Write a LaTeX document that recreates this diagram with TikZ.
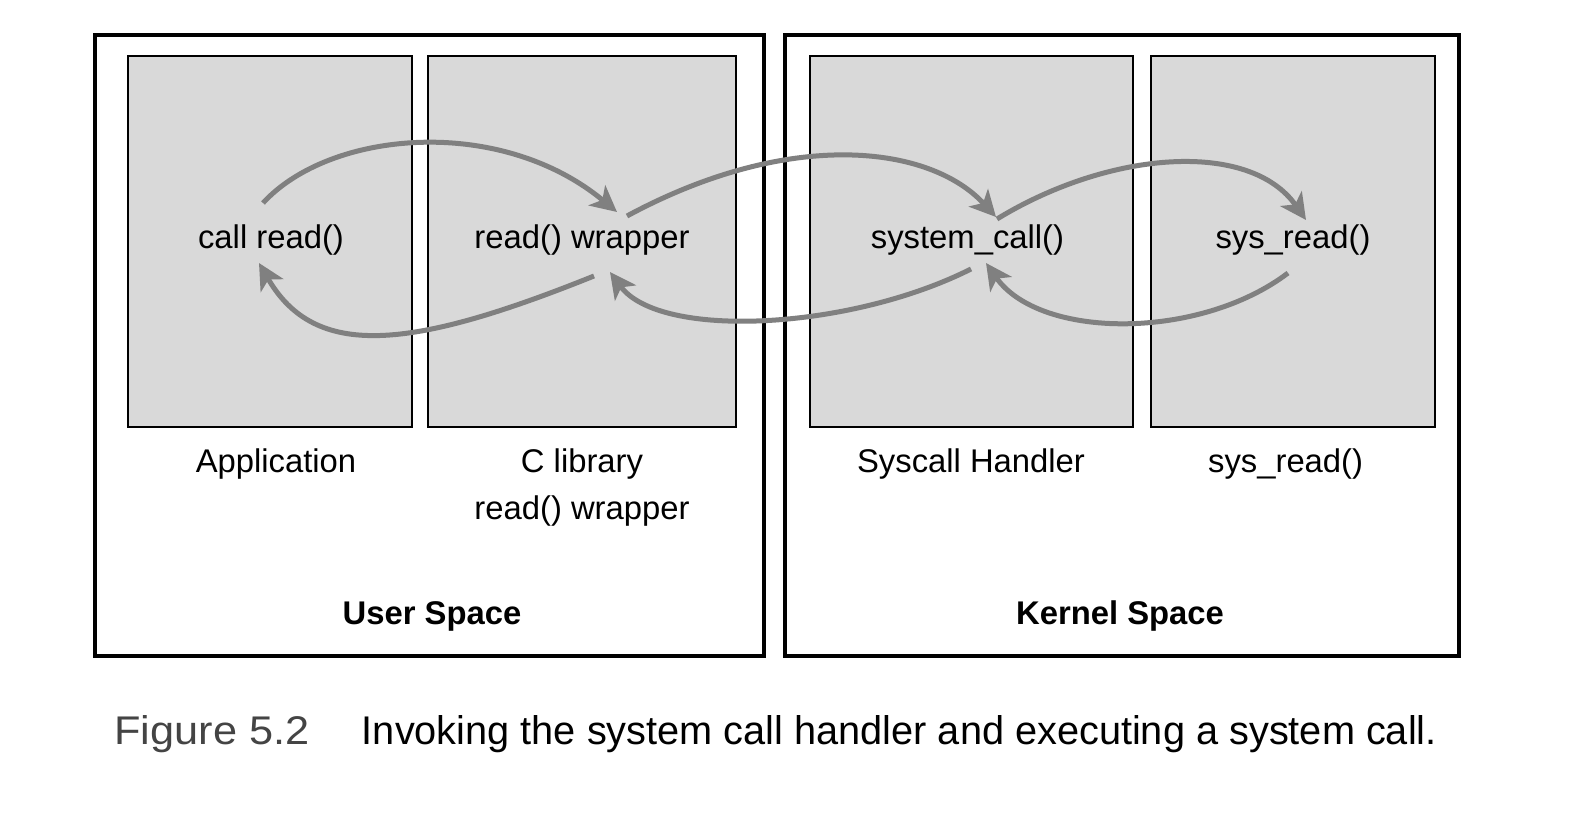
\documentclass[tikz,border=0pt]{standalone}
\usepackage{fontspec}
\setmainfont{Liberation Sans}
\usetikzlibrary{arrows.meta}
\definecolor{boxfill}{HTML}{D9D9D9}
\definecolor{arrowgray}{HTML}{808080}
\definecolor{figgray}{HTML}{444444}
\begin{document}
\begin{tikzpicture}[x=0.5pt,y=-0.5pt,
  outerbox/.style={draw=black,line width=2pt,inner sep=0pt,minimum height=310.5pt},
  innerbox/.style={draw=black,fill=boxfill,line width=1pt,inner sep=0pt,minimum height=185.5pt},
  lbl/.style={anchor=base,inner sep=0pt,font=\fontsize{16.4}{19.7}\selectfont},
  blbl/.style={lbl,font=\fontsize{16.4}{19.7}\selectfont\bfseries},
  flow/.style={draw=arrowgray,line width=2.5pt,-{Stealth[length=13pt,width=13pt,inset=3.5pt]}}]
\useasboundingbox (0,0) rectangle (1590,824);
% outer boxes
\node[outerbox,minimum width=334.5pt] (userbox) at (429.5,345.5) {};
\node[outerbox,minimum width=337pt] (kernbox) at (1122,345.5) {};
% inner boxes
\node[innerbox,minimum width=142.25pt] (appbox) at (269.75,241.5) {};
\node[innerbox,minimum width=154pt] (libbox) at (582,241.5) {};
\node[innerbox,minimum width=161.5pt] (hdlbox) at (971.5,241.5) {};
\node[innerbox,minimum width=142.25pt] (srbox) at (1292.75,241.5) {};
% labels in boxes
\node[lbl] (callread) at (271,248) {call read()};
\node[lbl] (wrapper) at (582,248) {read() wrapper};
\node[lbl] (syscall) at (967.5,248) {system\_call()};
\node[lbl] (sysread) at (1293,248) {sys\_read()};
% labels under boxes
\node[lbl] (applbl) at (276,472.5) {Application};
\node[lbl] (clib1) at (582,472.5) {C library};
\node[lbl] (clib2) at (582,519) {read() wrapper};
\node[lbl] (shlbl) at (971,472.5) {Syscall Handler};
\node[lbl] (srlbl) at (1285.6,472.5) {sys\_read()};
\node[blbl] (userlbl) at (432,624) {User Space};
\node[blbl] (kernlbl) at (1120,624) {Kernel Space};
% arrow end points
\coordinate (a1s) at (263,203);
\coordinate (a1e) at (617,212);
\coordinate (a2s) at (594,276);
\coordinate (a2e) at (259,263);
\coordinate (a3s) at (627,216);
\coordinate (a3e) at (996,217);
\coordinate (a4s) at (971,269);
\coordinate (a4e) at (610,272);
\coordinate (a5s) at (997,219);
\coordinate (a5e) at (1306,220);
\coordinate (a6s) at (1288,273);
\coordinate (a6e) at (986,263);
% arrows
\draw[flow] (a1s) .. controls (330,130) and (500,115) .. (a1e);
\draw[flow] (a2s) .. controls (410,350) and (315,360) .. (a2e);
\draw[flow] (a3s) .. controls (790,128) and (930,145) .. (a3e);
\draw[flow] (a4s) .. controls (850,330) and (660,340) .. (a4e);
\draw[flow] (a5s) .. controls (1110,150) and (1250,140) .. (a5e);
\draw[flow] (a6s) .. controls (1200,340) and (1040,340) .. (a6e);
% caption
\node[anchor=base west,inner sep=0pt,text=figgray] (fignum) at (114,744) {\resizebox{97.5pt}{14.5pt}{Figure 5.2}};
\node[anchor=base west,inner sep=0pt] (captext) at (361.5,744) {\resizebox{537.5pt}{14.5pt}{Invoking the system call handler and executing a system call.}};
\end{tikzpicture}
\end{document}
